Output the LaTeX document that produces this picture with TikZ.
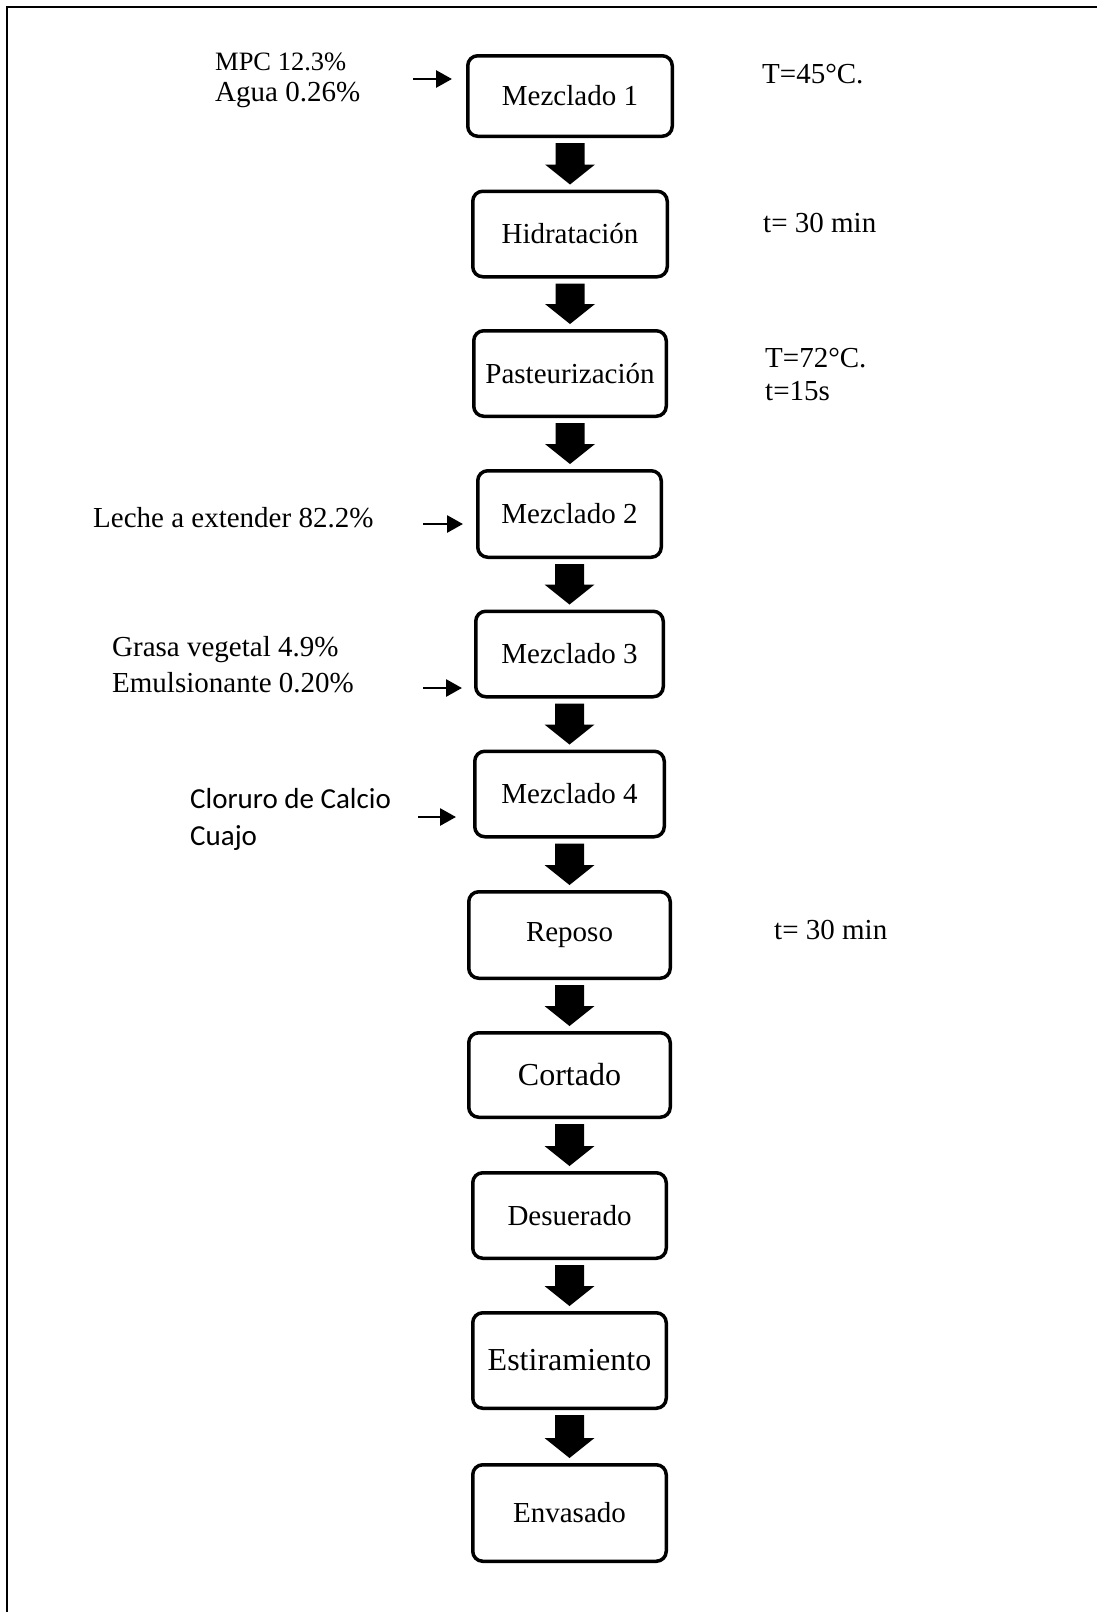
\documentclass[tikz,border=0pt]{standalone}
\usepackage{fontspec}
\setmainfont{Liberation Serif}
\newfontfamily\calibrilike{Carlito}
\usetikzlibrary{calc,arrows.meta}
\begin{document}
\begin{tikzpicture}[x=1pt,y=-1pt,
  txt/.style={font=\fontsize{29}{35}\selectfont},
  bigtxt/.style={font=\fontsize{32}{38}\selectfont},
  stepbox/.style={draw,line width=3.5pt,rounded corners=10pt,inner sep=0pt,txt},
  sidetext/.style={anchor=base west,inner sep=0pt,txt},
  feed/.style={line width=2.8pt,-{Triangle[length=16pt,width=17pt]}},
]
\useasboundingbox (0,0) rectangle (1097,1612);
% page frame (top and left edges)
\draw[line width=2pt] (1097,7) -- (7,7) -- (7,1612);

% process steps
\node[stepbox,minimum width=204.5pt,minimum height=80.5pt] (m1)   at (570,96)     {Mezclado 1};
\node[stepbox,minimum width=194.5pt,minimum height=85.5pt] (hid)  at (570,234)    {Hidratación};
\node[stepbox,minimum width=192.5pt,minimum height=85.5pt] (past) at (570,373.5)  {Pasteurización};
\node[stepbox,minimum width=183.5pt,minimum height=86.5pt] (m2)   at (569.5,514)  {Mezclado 2};
\node[stepbox,minimum width=187.5pt,minimum height=85.5pt] (m3)   at (569.5,654)  {Mezclado 3};
\node[stepbox,minimum width=189.5pt,minimum height=85.5pt] (m4)   at (569.5,794)  {Mezclado 4};
\node[stepbox,minimum width=201.5pt,minimum height=86.5pt] (rep)  at (569.5,935)  {Reposo};
\node[stepbox,bigtxt,minimum width=201.5pt,minimum height=84.5pt] (cort) at (569.5,1075) {Cortado};
\node[stepbox,minimum width=193.5pt,minimum height=85.5pt] (des)  at (569.5,1215.5) {Desuerado};
\node[stepbox,bigtxt,minimum width=193.5pt,minimum height=95.5pt] (est)  at (569.5,1360.5) {Estiramiento};
\node[stepbox,minimum width=193.5pt,minimum height=96.5pt] (env)  at (569.5,1513) {Envasado};

% block arrows between consecutive steps
\foreach \a/\b in {m1/hid,hid/past,past/m2,m2/m3,m3/m4,m4/rep,rep/cort,cort/des,des/est,est/env}{
  \fill let \p1=(\a.south), \p2=(\b.north) in
    (\x1-14.5pt,\y1-5pt) -- (\x1+14.5pt,\y1-5pt) -- (\x1+14.5pt,\y2+25pt)
    -- (\x1+25pt,\y2+25pt) -- (\x1,\y2+5pt) -- (\x1-25pt,\y2+25pt)
    -- (\x1-14.5pt,\y2+25pt) -- cycle;
}

% ingredients and conditions
\node[sidetext,font=\fontsize{26.5}{32}\selectfont] (mpc) at (215,70) {MPC 12.3\%};
\node[sidetext] (agua)  at (215,101) {Agua 0.26\%};
\node[sidetext] (c1)    at (762,83)  {T=45°C.};
\node[sidetext] (c2)    at (763,232) {t= 30 min};
\node[sidetext] (c3)    at (765,367) {T=72°C.};
\node[sidetext] (c4)    at (765,400) {t=15s};
\node[sidetext] (leche) at (93,527)  {Leche a extender 82.2\%};
\node[sidetext] (grasa) at (112,656) {Grasa vegetal 4.9\%};
\node[sidetext] (emul)  at (112,692) {Emulsionante 0.20\%};
\node[sidetext,font=\calibrilike\fontsize{29}{35}\selectfont] (clor)  at (190,808) {Cloruro de Calcio};
\node[sidetext,font=\calibrilike\fontsize{29}{35}\selectfont] (cuajo) at (190,845) {Cuajo};
\node[sidetext] (c5)    at (774,939) {t= 30 min};

% feed arrows into the mixing steps
\coordinate (f1) at (413,79);
\coordinate (f2) at (423,524);
\coordinate (f3) at (423,688);
\coordinate (f4) at (418,817);
\draw[feed,shorten >=14pt] (f1) -- (f1 -| m1.west);
\draw[feed,shorten >=13pt] (f2) -- (f2 -| m2.west);
\draw[feed,shorten >=12pt] (f3) -- (f3 -| m3.west);
\draw[feed,shorten >=17pt] (f4) -- (f4 -| m4.west);
\end{tikzpicture}
\end{document}
